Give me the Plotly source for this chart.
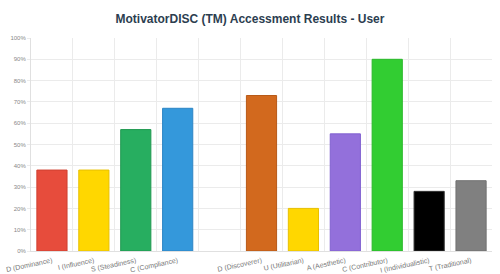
import plotly.graph_objects as go

categories = ["D (Dominance)", "I (Influence)", "S (Steadiness)", "C (Compliance)", " ",
              "D (Discoverer)", "U (Utilitarian)", "A (Aesthetic)", "C (Contributor)",
              "I (Individualistic)", "T (Traditional)"]
values = [38, 38, 57, 67, None, 73, 20, 55, 90, 28, 33]
colors = ["#E74C3C", "#FFD700", "#27AE60", "#3498DB", "#FFFFFF",
          "#D2691E", "#FFD700", "#9370DB", "#32CD32", "#000000", "#808080"]
borders = ["#D04030", "#E8C000", "#209850", "#2C85C5", "#FFFFFF",
           "#B85A18", "#E8C000", "#8060D0", "#28B828", "#333333", "#707070"]
yticks = [0, 10, 20, 30, 40, 50, 60, 70, 80, 90, 100]
ytext = [f"{v}%" for v in yticks]

fig = go.Figure(go.Bar(
    x=categories, y=values,
    marker=dict(color=colors, line=dict(color=borders, width=1)),
    width=0.72,
))

fig.update_layout(
    width=500, height=274,
    margin=dict(l=31, r=8, t=38, b=23),
    paper_bgcolor="white", plot_bgcolor="white",
    showlegend=False,
    title=dict(text="<b>MotivatorDISC (TM) Accessment Results - User</b>",
               x=0.5, xanchor="center", y=0.93, yanchor="middle",
               font=dict(family="Liberation Sans, Arial", size=12, color="#2C3E50")),
    font=dict(family="Liberation Sans, Arial", color="#666666"),
)
fig.update_xaxes(
    type="category", tickson="boundaries", showgrid=True, gridcolor="#EBEBEB",
    gridwidth=1, tickangle=-12, tickfont=dict(size=7, color="#777777"),
    ticks="", ticklabelstandoff=2,
    showline=True, linecolor="#E0E0E0", automargin=False,
)
fig.update_yaxes(
    range=[0, 100], tickvals=yticks, ticktext=ytext, showgrid=True,
    gridcolor="#EBEBEB", tickfont=dict(size=6, color="#888888"),
    ticks="outside", ticklen=3, tickcolor="#EBEBEB", zeroline=False,
    showline=True, linecolor="#E0E0E0", automargin=False,
)

fig.write_html("out.html")
